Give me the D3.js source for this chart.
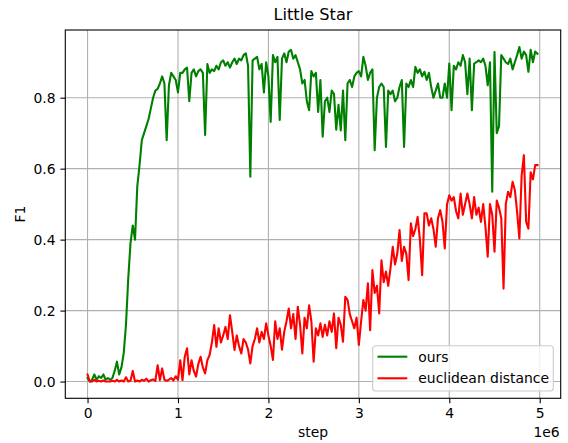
<!DOCTYPE html>
<html>
<head>
<meta charset="utf-8">
<script src="https://cdn.jsdelivr.net/npm/d3@7"></script>
<style>
  html, body { margin: 0; padding: 0; background: #fff; }
  svg { display: block; font-family: "DejaVu Sans", sans-serif; }
</style>
</head>
<body>
<svg id="chart" width="568" height="443"></svg>
<script>
// Evaluation F1 over training steps, sampled every 25k steps
const stepSize = 25000;

const ours = [
  0.01, 0.0, 0.005, 0.02, 0.005, 0.015, 0.01, 0.02, 0.005, 0.01,
  0.005, 0.01, 0.03, 0.056, 0.02, 0.04, 0.08, 0.16, 0.29, 0.39,
  0.44, 0.40, 0.55, 0.61, 0.68, 0.70, 0.72, 0.74, 0.77, 0.80,
  0.82, 0.825, 0.84, 0.86, 0.84, 0.68, 0.835, 0.87, 0.86, 0.85,
  0.815, 0.87, 0.87, 0.88, 0.885, 0.79, 0.87, 0.88, 0.86, 0.875,
  0.88, 0.87, 0.695, 0.895, 0.87, 0.88, 0.875, 0.89, 0.88, 0.90,
  0.905, 0.89, 0.90, 0.885, 0.90, 0.91, 0.895, 0.91, 0.905, 0.92,
  0.925, 0.89, 0.577, 0.905, 0.91, 0.915, 0.88, 0.895, 0.815, 0.90,
  0.86, 0.732, 0.92, 0.90, 0.915, 0.737, 0.91, 0.925, 0.90, 0.93,
  0.935, 0.91, 0.92, 0.90, 0.88, 0.84, 0.85, 0.79, 0.765, 0.875,
  0.86, 0.87, 0.76, 0.85, 0.69, 0.79, 0.80, 0.76, 0.82, 0.81,
  0.71, 0.78, 0.708, 0.82, 0.68, 0.84, 0.85, 0.83, 0.86, 0.87,
  0.875, 0.86, 0.915, 0.89, 0.85, 0.87, 0.88, 0.652, 0.80, 0.83,
  0.84, 0.83, 0.661, 0.82, 0.81, 0.82, 0.79, 0.80, 0.83, 0.85,
  0.661, 0.84, 0.83, 0.85, 0.83, 0.887, 0.87, 0.88, 0.86, 0.873,
  0.85, 0.87, 0.83, 0.80, 0.82, 0.84, 0.80, 0.80, 0.84, 0.80,
  0.896, 0.765, 0.89, 0.88, 0.90, 0.89, 0.92, 0.90, 0.81, 0.91,
  0.765, 0.896, 0.90, 0.905, 0.90, 0.91, 0.89, 0.835, 0.90, 0.535,
  0.929, 0.70, 0.72, 0.92, 0.91, 0.90, 0.895, 0.91, 0.88, 0.90,
  0.92, 0.943, 0.91, 0.93, 0.92, 0.873, 0.935, 0.90, 0.93, 0.924
];

const euclidean = [
  0.02, 0.0, 0.0, 0.005, 0.0, 0.002, 0.0, 0.003, 0.0, 0.0,
  0.0, 0.002, 0.0, 0.005, 0.0, 0.003, 0.0, 0.012, 0.0, 0.002,
  0.03, 0.0, 0.003, 0.0, 0.005, 0.002, 0.008, 0.0, 0.004, 0.006,
  0.002, 0.046, 0.004, 0.037, 0.005, 0.002, 0.005, 0.01, 0.003, 0.015,
  0.005, 0.06, 0.004, 0.07, 0.094, 0.02, 0.06, 0.03, 0.014, 0.05,
  0.07, 0.04, 0.023, 0.06, 0.075, 0.11, 0.159, 0.098, 0.15, 0.11,
  0.13, 0.154, 0.12, 0.187, 0.14, 0.089, 0.13, 0.10, 0.079, 0.12,
  0.11, 0.09, 0.051, 0.10, 0.12, 0.15, 0.11, 0.14, 0.12, 0.164,
  0.13, 0.10, 0.061, 0.17, 0.12, 0.15, 0.09, 0.14, 0.17, 0.206,
  0.15, 0.19, 0.12, 0.211, 0.16, 0.079, 0.18, 0.15, 0.215, 0.17,
  0.056, 0.15, 0.13, 0.164, 0.126, 0.16, 0.13, 0.17, 0.14, 0.192,
  0.094, 0.18, 0.16, 0.112, 0.239, 0.23, 0.19, 0.17, 0.15, 0.18,
  0.103, 0.17, 0.23, 0.20, 0.277, 0.145, 0.314, 0.25, 0.27, 0.192,
  0.342, 0.28, 0.31, 0.27, 0.32, 0.38, 0.33, 0.36, 0.427, 0.34,
  0.38, 0.36, 0.286, 0.446, 0.41, 0.43, 0.464, 0.40, 0.30, 0.474,
  0.474, 0.44, 0.46, 0.43, 0.38, 0.46, 0.483, 0.45, 0.375, 0.50,
  0.525, 0.51, 0.52, 0.48, 0.46, 0.53, 0.47, 0.50, 0.53, 0.50,
  0.46, 0.52, 0.47, 0.49, 0.45, 0.50, 0.436, 0.352, 0.50, 0.47,
  0.366, 0.51, 0.49, 0.46, 0.262, 0.50, 0.535, 0.52, 0.563, 0.54,
  0.478, 0.403, 0.58, 0.638, 0.45, 0.431, 0.59, 0.57, 0.61, 0.61
];

const series = [
  { name: "ours", color: "green", values: ours },
  { name: "euclidean distance", color: "red", values: euclidean }
];

const xTicks = [0, 1e6, 2e6, 3e6, 4e6, 5e6];
const xTickLabels = ["0", "1", "2", "3", "4", "5"];
const yTicks = [0.0, 0.2, 0.4, 0.6, 0.8];
const yTickLabels = ["0.0", "0.2", "0.4", "0.6", "0.8"];

const svg = d3.select("#chart");
const plot = { left: 65.3, right: 560.7, top: 30, bottom: 398.3 };

const x = d3.scaleLinear().domain([-0.246e6, 5.232e6]).range([plot.left, plot.right]);
const y = d3.scaleLinear().domain([-0.0472, 0.9908]).range([plot.bottom, plot.top]);

const fs = 13.9;

// grid
const grid = svg.append("g").attr("stroke", "#b0b0b0").attr("stroke-width", 1.1);
xTicks.forEach(t => grid.append("line")
  .attr("x1", x(t)).attr("x2", x(t)).attr("y1", plot.top).attr("y2", plot.bottom));
yTicks.forEach(t => grid.append("line")
  .attr("y1", y(t)).attr("y2", y(t)).attr("x1", plot.left).attr("x2", plot.right));

// clip for the data lines
svg.append("clipPath").attr("id", "plotclip").append("rect")
  .attr("x", plot.left).attr("y", plot.top)
  .attr("width", plot.right - plot.left).attr("height", plot.bottom - plot.top);

const line = d3.line()
  .x((d, i) => x(i * stepSize))
  .y(d => y(d));

svg.append("g").attr("clip-path", "url(#plotclip)")
  .selectAll("path").data(series).join("path")
  .attr("d", s => line(s.values))
  .attr("fill", "none")
  .attr("stroke", s => s.color)
  .attr("stroke-width", 2.1)
  .attr("stroke-linejoin", "round")
  .attr("stroke-linecap", "square");

// axes
const xAxis = d3.axisBottom(x).tickValues(xTicks)
  .tickFormat((d, i) => xTickLabels[i]).tickSize(4.9).tickPadding(4.9);
const yAxis = d3.axisLeft(y).tickValues(yTicks)
  .tickFormat((d, i) => yTickLabels[i]).tickSize(4.9).tickPadding(4.9);

const gx = svg.append("g").attr("transform", `translate(0,${plot.bottom})`).call(xAxis);
const gy = svg.append("g").attr("transform", `translate(${plot.left},0)`).call(yAxis);
[gx, gy].forEach(g => {
  g.select(".domain").remove();
  g.selectAll(".tick line").attr("stroke", "#000").attr("stroke-width", 1.1);
  g.selectAll(".tick text").attr("fill", "#000")
    .style("font-size", fs + "px").style("font-family", "DejaVu Sans");
});

// frame
svg.append("rect")
  .attr("x", plot.left).attr("y", plot.top)
  .attr("width", plot.right - plot.left).attr("height", plot.bottom - plot.top)
  .attr("fill", "none").attr("stroke", "#000").attr("stroke-width", 1.1);

// labels
svg.append("text").attr("x", (plot.left + plot.right) / 2).attr("y", 20)
  .attr("text-anchor", "middle").style("font-size", "16.2px").text("Little Star");
svg.append("text").attr("x", (plot.left + plot.right) / 2).attr("y", 437)
  .attr("text-anchor", "middle").style("font-size", fs + "px").text("step");
svg.append("text").attr("transform", `translate(25,${(plot.top + plot.bottom) / 2}) rotate(-90)`)
  .attr("text-anchor", "middle").style("font-size", fs + "px").text("F1");
svg.append("text").attr("x", plot.right - 1).attr("y", 437)
  .attr("text-anchor", "end").style("font-size", fs + "px").text("1e6");

// legend
const lg = svg.append("g");
lg.append("rect").attr("x", 372.7).attr("y", 345.7).attr("width", 180.6).attr("height", 45.3)
  .attr("rx", 3).attr("fill", "#fff").attr("fill-opacity", 0.8)
  .attr("stroke", "#cccccc").attr("stroke-width", 1.1);
series.forEach((s, i) => {
  const cy = 356.7 + i * 21.6;
  lg.append("line").attr("x1", 377.5).attr("x2", 407.3).attr("y1", cy).attr("y2", cy)
    .attr("stroke", s.color).attr("stroke-width", 2.1);
  lg.append("text").attr("x", 418.3).attr("y", cy).attr("dy", "0.36em")
    .style("font-size", fs + "px").text(s.name);
});
</script>
</body>
</html>
